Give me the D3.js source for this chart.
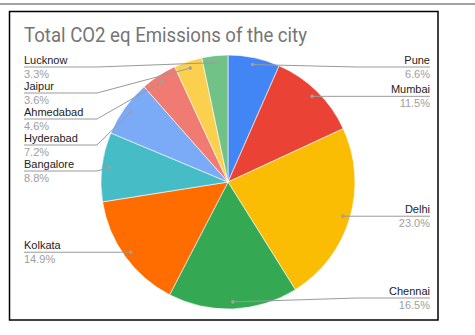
<!DOCTYPE html>
<html>
<head>
<meta charset="utf-8">
<script src="https://cdn.jsdelivr.net/npm/d3@7"></script>
<style>
  html, body { margin: 0; padding: 0; background: #fff; }
  svg { display: block; }
  text { font-family: Arial, "Liberation Sans", sans-serif; }
</style>
</head>
<body>
<svg id="chart" width="475" height="335"></svg>
<script>
// City emission shares (percent of total CO2 eq), clockwise from 12 o'clock
const cities = ["Pune", "Mumbai", "Delhi", "Chennai", "Kolkata", "Bangalore", "Hyderabad", "Ahmedabad", "Jaipur", "Lucknow"];
const shares = [6.6, 11.5, 23.0, 16.5, 14.9, 8.8, 7.2, 4.6, 3.6, 3.3];
const colors = ["#4285F4", "#EA4335", "#FBBC04", "#34A853", "#FF6D01", "#46BDC6", "#7BAAF7", "#F07B72", "#FCD04F", "#71C287"];
const title = "Total CO2 eq Emissions of the city";

const svg = d3.select("#chart");
const W = 475, H = 335;

// page rule and chart frame
svg.append("rect").attr("x", 0).attr("y", 3).attr("width", W).attr("height", 2).attr("fill", "#a3a3a3");
svg.append("rect").attr("x", 9.5).attr("y", 11.5).attr("width", 428.5).attr("height", 308.5)
  .attr("fill", "#fff").attr("stroke", "#000").attr("stroke-width", 1.5);

const titleText = svg.append("text").attr("x", 24).attr("y", 41.5)
  .style("font-family", "Roboto, Arial, sans-serif")
  .attr("font-size", 20).attr("fill", "#757575").text(title);
// keep the title to its set width
titleText.attr("textLength", 283).attr("lengthAdjust", "spacingAndGlyphs");

const cx = 228, cy = 182, R = 127;
const data = cities.map((c, i) => ({ city: c, value: shares[i], color: colors[i] }));
const pie = d3.pie().sort(null).value(d => d.value);
const arcs = pie(data);
const arc = d3.arc().innerRadius(0).outerRadius(R);
const g = svg.append("g").attr("transform", `translate(${cx},${cy})`);

g.selectAll("path").data(arcs).join("path")
  .attr("d", arc).attr("fill", d => d.data.color)
  .attr("stroke", "#fff").attr("stroke-width", 0.6);

// anchor point of each leader line, near the rim of its slice
const dotR = R * 0.945;
const total = d3.sum(shares);
const items = arcs.map(a => {
  const m = (a.startAngle + a.endAngle) / 2;
  return {
    a, m,
    px: cx + dotR * Math.sin(m),
    py: cy - dotR * Math.cos(m),
    right: m < Math.PI,
    pct: (a.data.value / total * 100).toFixed(1) + "%"
  };
});

// stack labels on each side so they never overlap
const yMin = 67, yMax = 298, gap = 26;
["left", "right"].forEach(side => {
  const list = items.filter(d => (side === "right") === d.right).sort((p, q) => p.py - q.py);
  let prev = -Infinity;
  list.forEach(d => {
    d.ly = Math.max(Math.min(Math.max(d.py, yMin), yMax), prev + gap);
    prev = d.ly;
  });
  for (let i = list.length - 1; i >= 0; i--) {
    const next = i < list.length - 1 ? list[i + 1].ly : Infinity;
    list[i].ly = Math.min(list[i].ly, yMax, next - gap);
  }
});

const leftX = 24, rightX = 430, leftBend = 97, rightBend = 357;
const lab = svg.append("g");
items.forEach(d => {
  const tx = d.right ? rightX : leftX;
  const bend = d.right ? rightBend : leftBend;
  lab.append("path")
    .attr("d", `M${tx},${d.ly}H${bend}L${d.px},${d.py}`)
    .attr("fill", "none").attr("stroke", "#9a9a9a").attr("stroke-width", 1);
  lab.append("circle").attr("cx", d.px).attr("cy", d.py).attr("r", 1.8).attr("fill", "#a0a0a0");
  lab.append("text").attr("x", tx).attr("y", d.ly - 3)
    .attr("text-anchor", d.right ? "end" : "start")
    .attr("font-size", 11).attr("fill", "#222").text(d.a.data.city);
  lab.append("text").attr("x", tx).attr("y", d.ly + 11)
    .attr("text-anchor", d.right ? "end" : "start")
    .attr("font-size", 11).attr("fill", "#9e9e9e").text(d.pct);
});
</script>
</body>
</html>
